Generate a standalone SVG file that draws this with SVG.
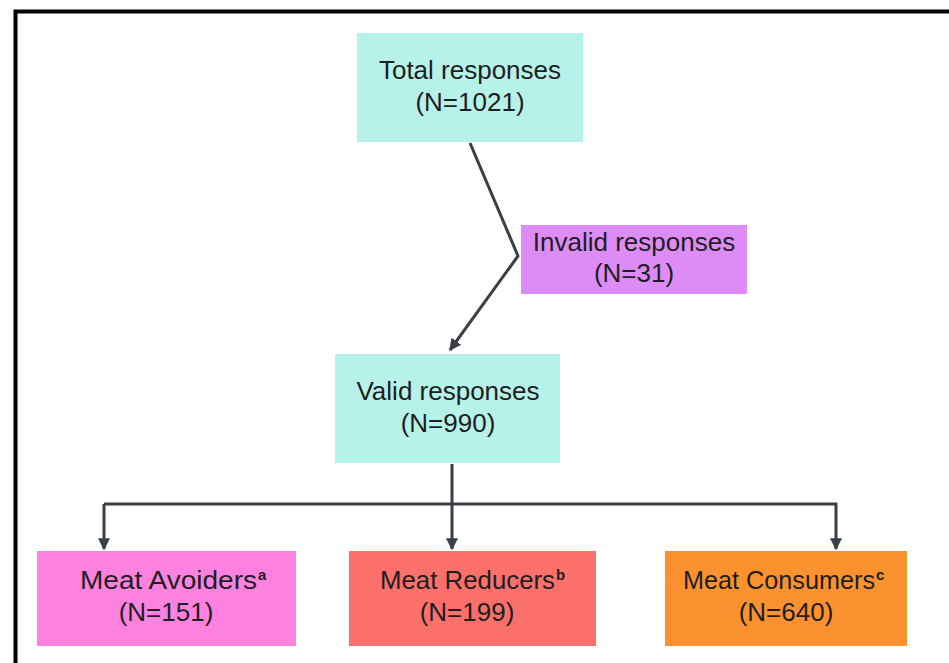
<svg xmlns="http://www.w3.org/2000/svg" width="949" height="663" viewBox="0 0 949 663">
<defs>
<style>
.t{font-family:"Liberation Sans",Arial,sans-serif;font-size:26px;fill:#1e1e1e;text-anchor:middle}
.s{text-anchor:start}
.sup{font-size:15px;font-weight:bold}
.c{fill:none;stroke:#3a3f47;stroke-width:3}
</style>
<marker id="ah" viewBox="0 0 10 10" refX="9" refY="5" markerWidth="4" markerHeight="4.5" orient="auto" markerUnits="strokeWidth">
<path d="M0,0 L10,5 L0,10 Z" fill="#3a3f47"/>
</marker>
</defs>
<rect x="0" y="0" width="949" height="663" fill="#ffffff"/>
<rect x="15.5" y="11.5" width="1000" height="1000" fill="none" stroke="#000" stroke-width="4"/>
<g id="connectors">
<path class="c" d="M470,143 L518,256 L450,350" marker-end="url(#ah)"/>
<path class="c" d="M452,464 L452,549" marker-end="url(#ah)"/>
<path class="c" d="M104,504 L836,504 L836,549" marker-end="url(#ah)"/>
<path class="c" d="M104,504 L104,549" marker-end="url(#ah)"/>
</g>
<g id="total">
<rect x="357" y="33" width="226" height="109" fill="#b6f2ea"/>
<text class="t" x="470" y="79">Total responses</text>
<text class="t" x="470" y="111">(N=1021)</text>
</g>
<g id="invalid">
<rect x="521" y="225" width="226" height="69" fill="#dd8cf7"/>
<text class="t" x="634" y="251">Invalid responses</text>
<text class="t" x="634" y="282">(N=31)</text>
</g>
<g id="valid">
<rect x="335" y="354" width="225" height="109" fill="#b6f2ea"/>
<text class="t" x="448" y="400">Valid responses</text>
<text class="t" x="448" y="432">(N=990)</text>
</g>
<g id="avoiders">
<rect x="37" y="551" width="259" height="95" fill="#fd82e0"/>
<text class="t s" x="80" y="589"><tspan textLength="177" lengthAdjust="spacingAndGlyphs">Meat Avoiders</tspan><tspan class="sup" dx="1" dy="-9">a</tspan></text>
<text class="t" x="166" y="621">(N=151)</text>
</g>
<g id="reducers">
<rect x="349" y="551" width="247" height="95" fill="#fc706c"/>
<text class="t s" x="380" y="589"><tspan textLength="175" lengthAdjust="spacingAndGlyphs">Meat Reducers</tspan><tspan class="sup" dx="1" dy="-9">b</tspan></text>
<text class="t" x="467" y="621">(N=199)</text>
</g>
<g id="consumers">
<rect x="665" y="551" width="242" height="95" fill="#fb922f"/>
<text class="t s" x="683" y="589" style="font-size:25px"><tspan textLength="192" lengthAdjust="spacingAndGlyphs">Meat Consumers</tspan><tspan class="sup" dx="1" dy="-9">c</tspan></text>
<text class="t" x="786" y="621">(N=640)</text>
</g>
</svg>
